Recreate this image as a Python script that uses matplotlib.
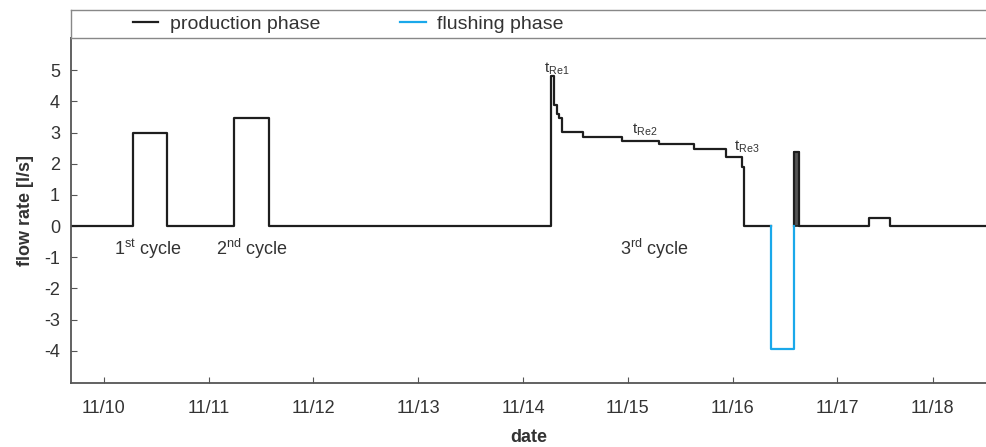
import numpy as np
import matplotlib
matplotlib.use("Agg")
import matplotlib.pyplot as plt
from matplotlib.lines import Line2D

plt.rcParams['font.family'] = ['Liberation Sans', 'DejaVu Sans']
plt.rcParams['axes.unicode_minus'] = False

# --- data (time in days of November) ---
prod1_t = [9.685, 10.277, 10.600, 11.243, 11.577, 14.270, 14.300, 14.320, 14.345,
           14.375, 14.573, 14.949, 15.299, 15.633, 15.942, 16.094, 16.108, 16.365]
prod1_q = [0, 3.00, 0, 3.45, 0, 4.82, 3.88, 3.60, 3.45,
           3.03, 2.87, 2.72, 2.63, 2.46, 2.22, 1.90, 0, 0]

prod2_t = [16.584, 16.584, 16.632, 17.300, 17.507, 18.42]
prod2_q = [0, 2.38, 0, 0.25, 0, 0]

flush_t = [16.365, 16.365, 16.584, 16.584]
flush_q = [0, -3.95, -3.95, 0]

spike_t, spike_w, spike_q = 16.584, 0.048, 2.38

tick_pos = [10, 11, 12, 13, 14, 15, 16, 17, 17.91]
tick_lab = ['11/10', '11/11', '11/12', '11/13', '11/14', '11/15', '11/16', '11/17', '11/18']

cycle_labels = [(10.42, r'1$^{\mathregular{st}}$ cycle'),
                (11.41, r'2$^{\mathregular{nd}}$ cycle'),
                (15.26, r'3$^{\mathregular{rd}}$ cycle')]
tre_labels = [(14.32, 4.92, r't$_{\mathregular{Re1}}$'),
              (15.16, 2.96, r't$_{\mathregular{Re2}}$'),
              (16.14, 2.42, r't$_{\mathregular{Re3}}$')]

black = '#1e1e1e'
blue = '#1aa8ea'
txt = '#333333'

fig = plt.figure(figsize=(9.86, 4.47), dpi=100)
ax_left = 71 / 986
ax_bot = (447 - 383) / 447
ax_top = (447 - 38) / 447
ax = fig.add_axes([ax_left, ax_bot, 1 - ax_left, ax_top - ax_bot])

ax.step(prod1_t, prod1_q, where='post', color=black, lw=1.6)
ax.step(prod2_t, prod2_q, where='post', color=black, lw=1.6)
ax.bar(spike_t, spike_q, width=spike_w, align='edge', color='#555555',
       edgecolor=black, linewidth=1.2)
ax.plot(flush_t, flush_q, color=blue, lw=1.6)

ax.set_xlim(9.685, 18.42)
ax.set_ylim(-5.03, 6.03)
ax.set_yticks(range(-4, 6))
ax.set_xticks(tick_pos)
ax.set_xticklabels(tick_lab)
ax.tick_params(axis='both', direction='in', length=4, colors='#555555',
               labelcolor=txt, labelsize=13)
ax.tick_params(axis='x', pad=12)
ax.tick_params(axis='y', pad=8)

for s in ['left', 'bottom', 'top']:
    ax.spines[s].set_color('#555555')
    ax.spines[s].set_linewidth(1.3)
ax.spines['right'].set_visible(False)

ax.set_xlabel('date', fontsize=13, fontweight='bold', color=txt, labelpad=9)
ax.set_ylabel('flow rate [l/s]', fontsize=13, fontweight='bold', color=txt, labelpad=7)

for x, s in cycle_labels:
    ax.text(x, -0.93, s, ha='center', va='baseline', fontsize=13, color=txt)
for x, y, s in tre_labels:
    ax.text(x, y, s, ha='center', va='baseline', fontsize=11, color=txt)

# legend strip above the plot
lax = fig.add_axes([ax_left, ax_top, 1 - ax_left, 28 / 447])
lax.set_xticks([])
lax.set_yticks([])
for s in lax.spines.values():
    s.set_color('#888888')
    s.set_linewidth(1.0)
lax.spines['right'].set_visible(False)
handles = [Line2D([], [], color=black, lw=1.6), Line2D([], [], color=blue, lw=1.6)]
lax.legend(handles, ['production phase', 'flushing phase'], loc='center left',
           bbox_to_anchor=(0.068, 0.5), ncol=2, frameon=False, fontsize=14,
           handlelength=1.3, handletextpad=0.6, columnspacing=4.1,
           borderpad=0, borderaxespad=0, labelcolor=txt)

fig.savefig('out.png', dpi=100)
